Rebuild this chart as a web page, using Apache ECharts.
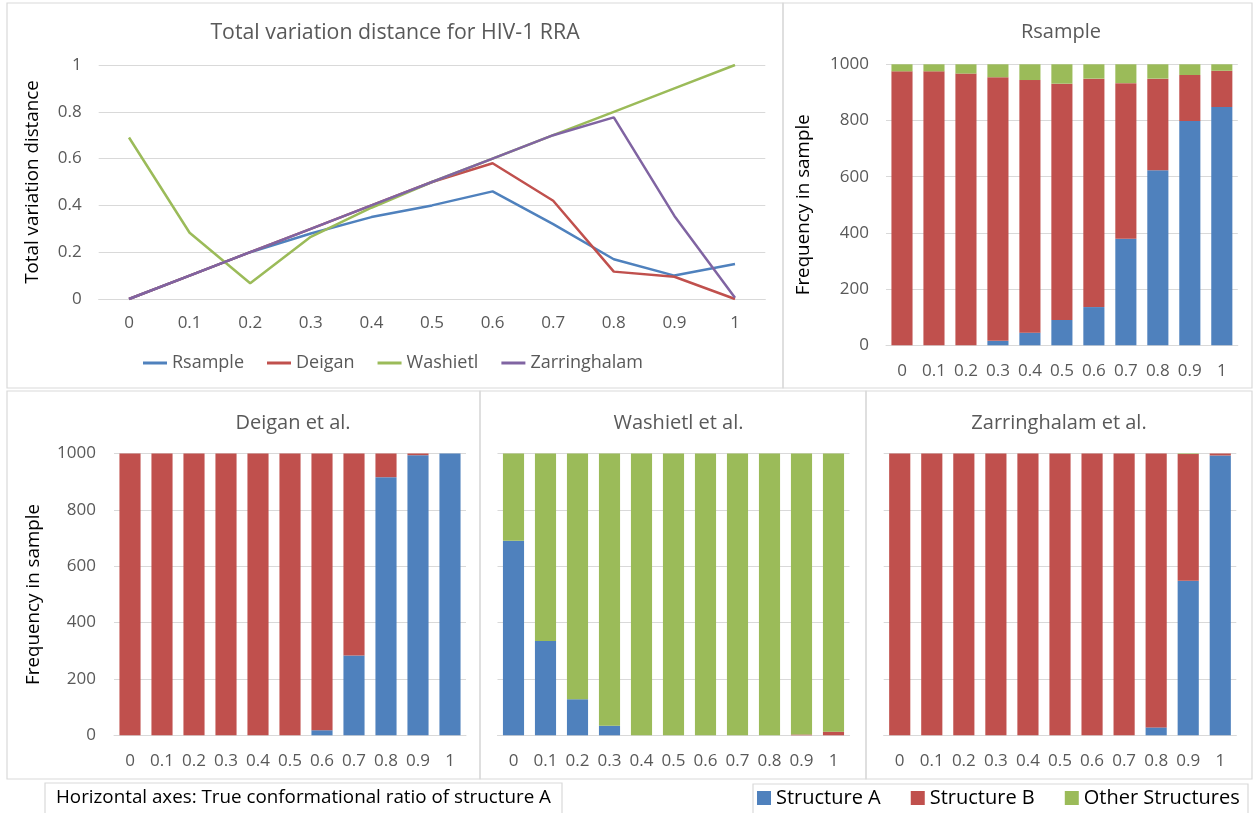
<!DOCTYPE html>
<html>
<head>
<meta charset="utf-8">
<script src="https://cdn.jsdelivr.net/npm/echarts@6/dist/echarts.min.js"></script>
<style>
html,body{margin:0;padding:0;background:#fff;}
#chart{width:1253px;height:813px;}
</style>
</head>
<body>
<div id="chart"></div>
<script>
const categories = ['0','0.1','0.2','0.3','0.4','0.5','0.6','0.7','0.8','0.9','1'];

const lineNames = ['Rsample','Deigan','Washietl','Zarringhalam'];
const tvdRsample = [0,0.1,0.2,0.28,0.35,0.40,0.46,0.32,0.17,0.10,0.15];
const tvdDeigan = [0,0.1,0.2,0.3,0.4,0.5,0.58,0.42,0.117,0.095,0];
const tvdWashietl = [0.69,0.283,0.067,0.266,0.39,0.5,0.6,0.7,0.8,0.9,1];
const tvdZarringhalam = [0,0.1,0.2,0.3,0.4,0.5,0.6,0.7,0.776,0.355,0.005];

const structNames = ['Structure A','Structure B','Other Structures'];
const rsA = [0,0,0,16,45,90,136,379,623,798,848];
const rsB = [975,975,967,938,899,841,813,554,326,164,129];
const rsO = [25,25,33,46,56,69,51,67,51,38,23];
const deA = [0,0,0,0,0,0,18,283,916,994,1000];
const deB = [1000,1000,1000,1000,1000,1000,982,717,84,6,0];
const deO = [0,0,0,0,0,0,0,0,0,0,0];
const waA = [690,335,128,34,0,0,0,0,0,0,0];
const waB = [0,0,0,0,0,0,0,0,0,3,13];
const waO = [310,665,872,966,1000,1000,1000,1000,1000,997,987];
const zaA = [0,0,0,0,0,0,0,0,28,548,993];
const zaB = [1000,1000,1000,1000,1000,1000,1000,1000,972,450,7];
const zaO = [0,0,0,0,0,0,0,0,0,2,0];

const panelTitles = ['Total variation distance for HIV-1 RRA','Rsample','Deigan et al.','Washietl et al.','Zarringhalam et al.'];
const tvdTicks = {min:0, max:1, interval:0.2};
const freqTicks = {min:0, max:1000, interval:200};

const FONT = 'Open Sans';
const GRAY = '#595959';
const GRID = '#d9d9d9';
const lineColors = ['#4f81bd','#c0504d','#9bbb59','#8064a2'];
const barColors = ['#4f81bd','#c0504d','#9bbb59'];

const chart = echarts.init(document.getElementById('chart'), null, {renderer:'canvas'});

const grids = [
  {left:98.7, top:65, width:666.6, height:234},
  {left:886, top:64.3, width:351.8, height:281},
  {left:114, top:453.5, width:352, height:281.8},
  {left:497.5, top:453.5, width:352, height:281.8},
  {left:883.7, top:453.5, width:352.6, height:281.8}
];

function xAxisFor(i, margin){
  return {
    type:'category', gridIndex:i, data:categories, boundaryGap:true,
    axisLine:{show:true, lineStyle:{color:GRID, width:1}},
    axisTick:{show:false},
    axisLabel:{color:GRAY, fontSize:17, fontFamily:FONT, margin:margin, interval:0}
  };
}
function yAxisFor(i, ticks, showLabels, name, nameGap, margin){
  return {
    type:'value', gridIndex:i, min:ticks.min, max:ticks.max, interval:ticks.interval,
    axisLine:{show:false}, axisTick:{show:false},
    splitLine:{show:true, lineStyle:{color:GRID, width:1}},
    axisLabel:{show:showLabels, color:GRAY, fontSize:17, fontFamily:FONT, margin:margin,
      formatter:(v)=>String(Math.round(v*1000)/1000)},
    name:name, nameLocation:'middle', nameGap:nameGap,
    nameTextStyle:{color:'#000', fontSize:18.8, fontFamily:FONT}
  };
}

const titleCenters = [[395,22],[1061,22],[293,413],[678.5,413],[1059,413]];
const titleSizes = [21.3,20,20,20,20];
const titles = panelTitles.map((t,i)=>({
  text:t, left:titleCenters[i][0], top:titleCenters[i][1], textAlign:'center', padding:0,
  textStyle:{color:GRAY, fontSize:titleSizes[i], fontWeight:'normal', fontFamily:FONT}
}));

const lineData = [tvdRsample, tvdDeigan, tvdWashietl, tvdZarringhalam];
const series = [];
lineNames.forEach((n,i)=>{
  series.push({
    name:n, type:'line', xAxisIndex:0, yAxisIndex:0, data:lineData[i],
    showSymbol:false, symbol:'none', smooth:false,
    lineStyle:{color:lineColors[i], width:2.5}, itemStyle:{color:lineColors[i]},
    z:2+i
  });
});
const barSets = [[rsA,rsB,rsO],[deA,deB,deO],[waA,waB,waO],[zaA,zaB,zaO]];
barSets.forEach((set,g)=>{
  set.forEach((vals,k)=>{
    series.push({
      name:structNames[k], type:'bar', xAxisIndex:g+1, yAxisIndex:g+1,
      stack:'s'+g, data:vals, barCategoryGap:'34%',
      itemStyle:{color:barColors[k]}
    });
  });
});

function box(x,y,w,h){
  return {type:'rect', shape:{x:x,y:y,width:w,height:h}, silent:true,
    style:{fill:'none', stroke:GRID, lineWidth:1.2}, z:-10};
}

const option = {
  animation:false,
  backgroundColor:'#fff',
  title:titles,
  grid:grids.map(g=>Object.assign({containLabel:false}, g)),
  xAxis:[xAxisFor(0,16), xAxisFor(1,17), xAxisFor(2,17), xAxisFor(3,17), xAxisFor(4,17)],
  yAxis:[
    yAxisFor(0,tvdTicks,true,'Total variation distance',57,17),
    yAxisFor(1,freqTicks,true,'Frequency in sample',73,17),
    yAxisFor(2,freqTicks,true,'Frequency in sample',71,18),
    yAxisFor(3,freqTicks,false,'',0,17),
    yAxisFor(4,freqTicks,false,'',0,17)
  ],
  legend:[
    {data:lineNames, left:143, top:354, itemGap:23, itemWidth:24, itemHeight:3, icon:'rect',
     padding:0, textStyle:{color:GRAY, fontSize:18, fontFamily:FONT}, selectedMode:false},
    {data:structNames, left:757, top:788, itemGap:30, itemWidth:14, itemHeight:14, icon:'rect',
     padding:0, textStyle:{color:'#000', fontSize:20, fontFamily:FONT}, selectedMode:false}
  ],
  graphic:[
    box(7,3,776,385),
    box(783,3,469,385),
    box(7,391,473,388),
    box(480,391,386,388),
    box(866,391,386,388),
    box(45,783,517,40),
    box(753,784,495,40),
    {type:'text', left:56, top:788, silent:true,
     style:{text:'Horizontal axes: True conformational ratio of structure A', fill:'#000', fontSize:18.8, fontFamily:FONT}}
  ],
  series:series
};
chart.setOption(option);
</script>
</body>
</html>
